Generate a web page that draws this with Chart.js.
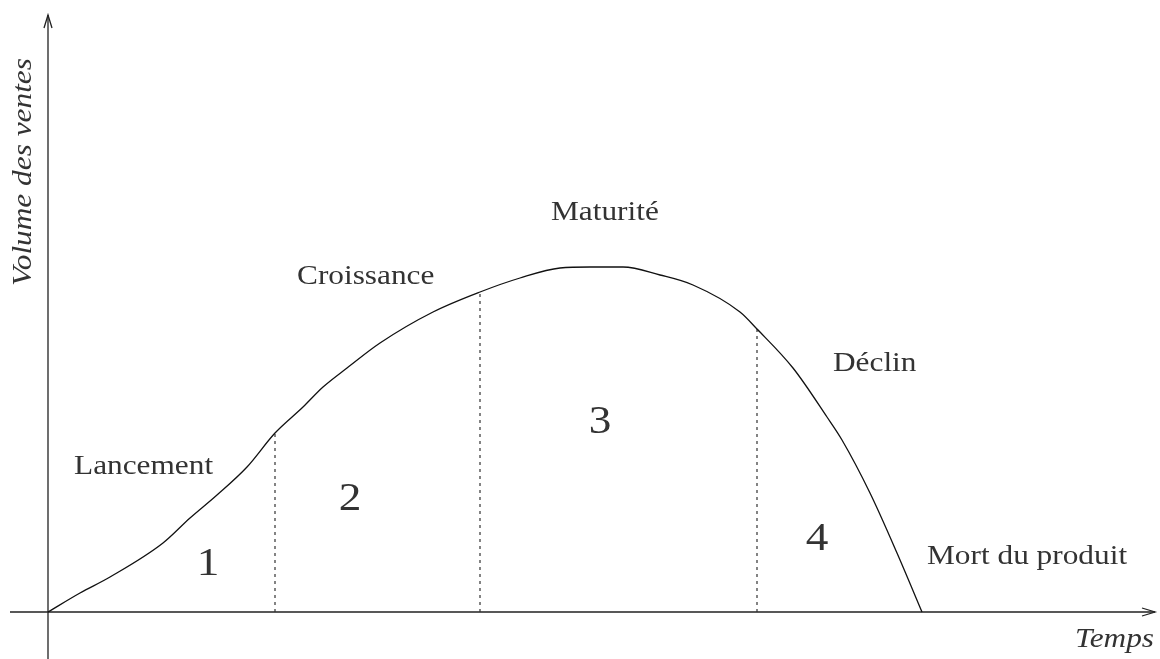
<!DOCTYPE html>
<html>
<head>
<meta charset="utf-8">
<script src="https://cdn.jsdelivr.net/npm/chart.js@4.4.1/dist/chart.umd.min.js"></script>
<style>
  html, body { margin: 0; padding: 0; background: #fff; }
  #wrap { width: 1160px; height: 659px; position: relative; }
</style>
</head>
<body>
<div id="wrap"><canvas id="lifeCycle"></canvas></div>
<script>
// product life cycle curve
const timeValues = [0, 32, 62, 115, 142, 169, 199, 227, 255, 275, 299, 332, 385, 432, 472, 512, 542, 575, 612, 645, 692, 709, 745, 779, 794, 822, 849, 874];
const salesValues = [0, 19, 35, 69, 94, 117, 145, 179, 205, 225, 244, 269, 300, 320, 334, 344, 345, 345, 337, 327, 300, 283, 244, 195, 172, 119, 59, 0];

// phase boundaries (dotted lines) and their heights on the curve
const phaseLimits = [227, 432, 709];
const phaseTops = [179, 320, 283];

const phaseNumbers = ["1", "2", "3", "4"];
const phaseNumberPos = [[160, 47], [302, 112], [552, 189], [769, 72]];
const phaseNames = ["Lancement", "Croissance", "Maturité", "Déclin", "Mort du produit"];
const phaseNamePos = [[26, 145], [249, 335], [503, 399], [785, 248], [879, 55]];

const xTitle = "Temps";
const yTitle = "Volume des ventes";

const curve = timeValues.map((t, i) => ({ x: t, y: salesValues[i] }));

const dividers = phaseLimits.map((t, i) => ({
  data: [{ x: t, y: 0 }, { x: t, y: phaseTops[i] }],
  borderColor: "#333",
  borderWidth: 1.2,
  borderDash: [3, 4],
  pointRadius: 0,
  fill: false
}));

const serif = "'Liberation Serif', 'DejaVu Serif', serif";
const stretch = 1.16; // the lettering in the picture is a bit wide

function wideText(ctx, text, px, py, align, angle) {
  ctx.save();
  ctx.translate(px, py);
  if (angle) ctx.rotate(angle);
  ctx.scale(stretch, 1);
  ctx.textAlign = align;
  ctx.fillText(text, 0, 0);
  ctx.restore();
}

// axes with arrows + text labels
const drawing = {
  id: "drawing",
  beforeDatasetsDraw(chart) {
    const ctx = chart.ctx;
    const x = chart.scales.x, y = chart.scales.y;
    const x0 = x.getPixelForValue(0), y0 = y.getPixelForValue(0);
    ctx.save();
    ctx.strokeStyle = "#222";
    ctx.lineWidth = 1.3;
    ctx.beginPath();
    ctx.moveTo(x0, chart.height);
    ctx.lineTo(x0, 15);
    ctx.moveTo(10, y0);
    ctx.lineTo(1155, y0);
    ctx.stroke();
    // arrow heads
    ctx.beginPath();
    ctx.moveTo(x0 - 4, 28); ctx.lineTo(x0, 15); ctx.lineTo(x0 + 4, 28);
    ctx.moveTo(1142, y0 - 4); ctx.lineTo(1155, y0); ctx.lineTo(1142, y0 + 4);
    ctx.stroke();
    ctx.restore();
  },
  afterDatasetsDraw(chart) {
    const ctx = chart.ctx;
    const x = chart.scales.x, y = chart.scales.y;
    ctx.save();
    ctx.fillStyle = "#333";
    ctx.textBaseline = "middle";
    ctx.font = "39px " + serif;
    phaseNumbers.forEach((n, i) => {
      wideText(ctx, n, x.getPixelForValue(phaseNumberPos[i][0]), y.getPixelForValue(phaseNumberPos[i][1]), "center");
    });
    ctx.font = "27px " + serif;
    phaseNames.forEach((n, i) => {
      wideText(ctx, n, x.getPixelForValue(phaseNamePos[i][0]), y.getPixelForValue(phaseNamePos[i][1]), "left");
    });
    ctx.font = "italic 27px " + serif;
    wideText(ctx, xTitle, 1154, 640, "right");
    wideText(ctx, yTitle, 24, 172, "center", -Math.PI / 2);
    ctx.restore();
  }
};

new Chart(document.getElementById("lifeCycle"), {
  type: "line",
  data: {
    datasets: [
      {
        data: curve,
        borderColor: "#111",
        borderWidth: 1.3,
        pointRadius: 0,
        cubicInterpolationMode: "monotone",
        fill: false
      },
      ...dividers
    ]
  },
  options: {
    responsive: true,
    maintainAspectRatio: false,
    animation: false,
    layout: { padding: 0 },
    plugins: { legend: { display: false }, tooltip: { enabled: false } },
    scales: {
      x: { type: "linear", display: false, min: -48, max: 1112 },
      y: { type: "linear", display: false, min: -47, max: 612 }
    }
  },
  plugins: [drawing]
});
</script>
</body>
</html>
